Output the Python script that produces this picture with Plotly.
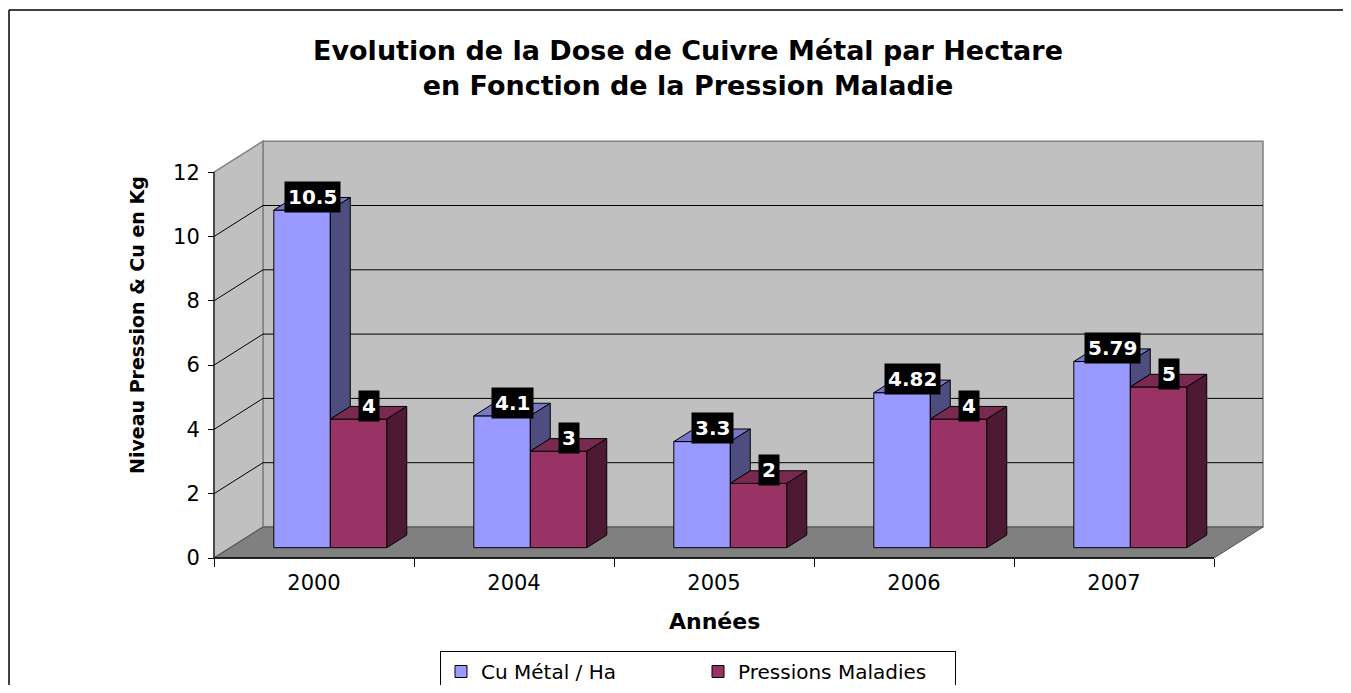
import plotly.graph_objects as go

# ---------------- data ----------------
categories = ["2000", "2004", "2005", "2006", "2007"]
cu_metal = [10.5, 4.1, 3.3, 4.82, 5.79]
pression = [4, 3, 2, 4, 5]
y_tick_values = [0, 2, 4, 6, 8, 10, 12]
series_names = ["Cu Métal / Ha", "Pressions Maladies"]
title_lines = ["Evolution de la Dose de Cuivre Métal par Hectare",
               "en Fonction de la Pression Maladie"]
x_title = "Années"
y_title = "Niveau Pression & Cu en Kg"

# ---------------- geometry ----------------
# The page body has an 8px margin on every side: the figure is made smaller so
# the page does not scroll, and positions are given in window pixels.
OFF = 8
VW, VH = 1351, 693
W, H = VW - 2 * OFF, VH - 2 * OFF
PLOT_L, PLOT_R, PLOT_T, PLOT_B = 208, 1268, 138, 560   # window pixels
ML, MT = PLOT_L - OFF, PLOT_T - OFF
PW, PH = PLOT_R - PLOT_L, PLOT_B - PLOT_T
MR, MB = W - ML - PW, H - MT - PH

PX_X = 200.0                      # pixels per category
X_LO = -0.53
X_HI = X_LO + PW / PX_X
PX_Y = 32.15                      # pixels per value unit
ZERO_PX = 558                     # window row of value 0 (front)
Y_HI = (ZERO_PX - PLOT_T) / PX_Y
Y_LO = -(PLOT_B - ZERO_PX) / PX_Y

DX = 49 / PX_X                    # depth offset (x units)
DY = 31 / PX_Y                    # depth offset (value units)
F0, F1 = 0.333, 0.74              # bar depth band
BAR_W = 0.2825
n = len(categories)
L, R = -0.5, n - 0.5
y_top = max(y_tick_values)
b0 = F0 * DY
ddx, ddy = (F1 - F0) * DX, (F1 - F0) * DY


def paper_x(px):
    return (px - PLOT_L) / PW


def paper_y(py):
    return (PLOT_B - py) / PH


def cont_x(px):
    return (px - OFF) / W


def cont_y(py):
    return 1 - (py - OFF) / H


FONT = "DejaVu Sans"

# ---------------- walls / floor ----------------
shapes = []


def poly(pts, fill, line, width=1.0):
    path = "M " + " L ".join(f"{x},{y}" for x, y in pts) + " Z"
    shapes.append(dict(type="path", path=path, xref="x", yref="y",
                       fillcolor=fill, line=dict(color=line, width=width),
                       layer="below"))


def seg(x0, y0, x1, y1, color, width=1.0):
    shapes.append(dict(type="line", x0=x0, y0=y0, x1=x1, y1=y1,
                       xref="x", yref="y", line=dict(color=color, width=width),
                       layer="below"))


poly([(L + DX, DY), (R + DX, DY), (R + DX, y_top + DY), (L + DX, y_top + DY)],
     "#C0C0C0", "#808080", 1.5)
poly([(L, 0), (L + DX, DY), (L + DX, y_top + DY), (L, y_top)],
     "#C0C0C0", "#808080", 1.5)
for v in y_tick_values[1:-1]:
    seg(L + DX, v + DY, R + DX, v + DY, "black", 1)
    seg(L, v, L + DX, v + DY, "black", 1)
poly([(L, 0), (R, 0), (R + DX, DY), (L + DX, DY)], "#808080", "#505050", 1)
seg(L, 0, R, 0, "black", 1.6)
seg(L, 0, L, y_top, "black", 1)

# outer frame of the chart area (only its left and top sides are in view)
fig_right, fig_bottom = OFF + W, OFF + H
for (x0, y0, x1, y1) in ((9, fig_bottom, 9, 10), (9, 10, fig_right, 10)):
    shapes.append(dict(type="line", xref="paper", yref="paper",
                       x0=paper_x(x0), y0=paper_y(y0), x1=paper_x(x1), y1=paper_y(y1),
                       line=dict(color="black", width=1.5), layer="below"))

# ---------------- bars ----------------
x_blue = [i - BAR_W / 2 + F0 * DX for i in range(n)]
x_red = [i + BAR_W / 2 + F0 * DX for i in range(n)]

colors = {
    "blue": ("#9999FF", "#7777C8", "#4D4D80"),
    "red": ("#993366", "#7A2952", "#4D1A33"),
}

fig = go.Figure()
fig.add_trace(go.Bar(x=x_blue, y=cu_metal, base=b0, width=BAR_W,
                     name=series_names[0],
                     marker=dict(color=colors["blue"][0], line=dict(color="black", width=1)),
                     hoverinfo="skip"))
fig.add_trace(go.Bar(x=x_red, y=pression, base=b0, width=BAR_W,
                     name=series_names[1],
                     marker=dict(color=colors["red"][0], line=dict(color="black", width=1)),
                     hoverinfo="skip"))


def top_face(xc, v):
    xl, xr = xc - BAR_W / 2, xc + BAR_W / 2
    t = v + b0
    return [(xl, t), (xr, t), (xr + ddx, t + ddy), (xl + ddx, t + ddy), (xl, t)]


def side_face(xc, v_lo, v_hi):
    x = xc + BAR_W / 2
    return [(x, v_lo + b0), (x + ddx, v_lo + b0 + ddy), (x + ddx, v_hi + b0 + ddy),
            (x, v_hi + b0), (x, v_lo + b0)]


def add_faces(polys, color):
    xs, ys = [], []
    for p in polys:
        xs += [q[0] for q in p] + [None]
        ys += [q[1] for q in p] + [None]
    fig.add_trace(go.Scatter(x=xs, y=ys, mode="lines", fill="toself",
                             fillcolor=color, line=dict(color="black", width=1),
                             showlegend=False, hoverinfo="skip", cliponaxis=False))


add_faces([top_face(x_blue[i], cu_metal[i]) for i in range(n)], colors["blue"][1])
add_faces([side_face(x_blue[i], min(pression[i], cu_metal[i]), cu_metal[i])
           for i in range(n) if cu_metal[i] > pression[i]], colors["blue"][2])
add_faces([top_face(x_red[i], pression[i]) for i in range(n)], colors["red"][1])
add_faces([side_face(x_red[i], 0, pression[i]) for i in range(n)], colors["red"][2])

# ---------------- labels ----------------
annotations = []
for xs_, vals in ((x_blue, cu_metal), (x_red, pression)):
    for xc, v in zip(xs_, vals):
        annotations.append(dict(
            x=xc + ddx / 2, y=v + b0 + ddy / 2, xref="x", yref="y", yshift=7,
            xanchor="center", yanchor="middle",
            text=f"<b>{v:g}</b>", showarrow=False, bgcolor="black",
            borderpad=3, font=dict(family=FONT, size=20, color="white")))

annotations.append(dict(x=paper_x(714), y=paper_y(621), xref="paper", yref="paper",
                        xanchor="center", yanchor="middle",
                        text=f"<b>{x_title}</b>", showarrow=False,
                        font=dict(family=FONT, size=22, color="black")))
annotations.append(dict(x=paper_x(137), y=paper_y(325), xref="paper", yref="paper",
                        xanchor="center", yanchor="middle",
                        text=f"<b>{y_title}</b>", showarrow=False, textangle=-90,
                        font=dict(family=FONT, size=19, color="black")))

fig.update_layout(
    width=W, height=H,
    margin=dict(l=ML, r=MR, t=MT, b=MB, pad=0, autoexpand=False),
    paper_bgcolor="white", plot_bgcolor="white",
    barmode="overlay",
    font=dict(family=FONT, color="black"),
    title=dict(text="<br>".join(f"<b>{t}</b>" for t in title_lines),
               x=cont_x(688), xref="container", xanchor="center",
               y=cont_y(60), yref="container", yanchor="middle",
               font=dict(family=FONT, size=27, color="black")),
    xaxis=dict(range=[X_LO, X_HI], anchor="free", position=paper_y(ZERO_PX),
               tickmode="array", tickvals=list(range(n)), ticktext=categories,
               ticks="outside", ticklen=6, tickcolor="rgba(0,0,0,0)",
               tickfont=dict(family=FONT, size=21, color="black"),
               showgrid=False, zeroline=False, showline=False, fixedrange=True,
               minor=dict(tickmode="array", tickvals=[i - 0.5 for i in range(n + 1)],
                          ticks="outside", ticklen=8, tickcolor="black", tickwidth=1,
                          showgrid=False)),
    yaxis=dict(range=[Y_LO, Y_HI], anchor="free", position=paper_x(214),
               tickmode="array", tickvals=y_tick_values,
               ticks="outside", ticklen=6, tickcolor="black", tickwidth=1,
               ticklabelstandoff=4,
               tickfont=dict(family=FONT, size=21, color="black"),
               showgrid=False, zeroline=False, showline=False, fixedrange=True),
    legend=dict(orientation="h", x=cont_x(440), y=cont_y(651),
                xref="container", yref="container",
                xanchor="left", yanchor="top", bgcolor="white",
                bordercolor="black", borderwidth=1,
                entrywidth=212, entrywidthmode="pixels",
                font=dict(family=FONT, size=20, color="black"),
                traceorder="normal"),
    shapes=shapes,
    annotations=annotations,
)

fig.write_html("out.html")
